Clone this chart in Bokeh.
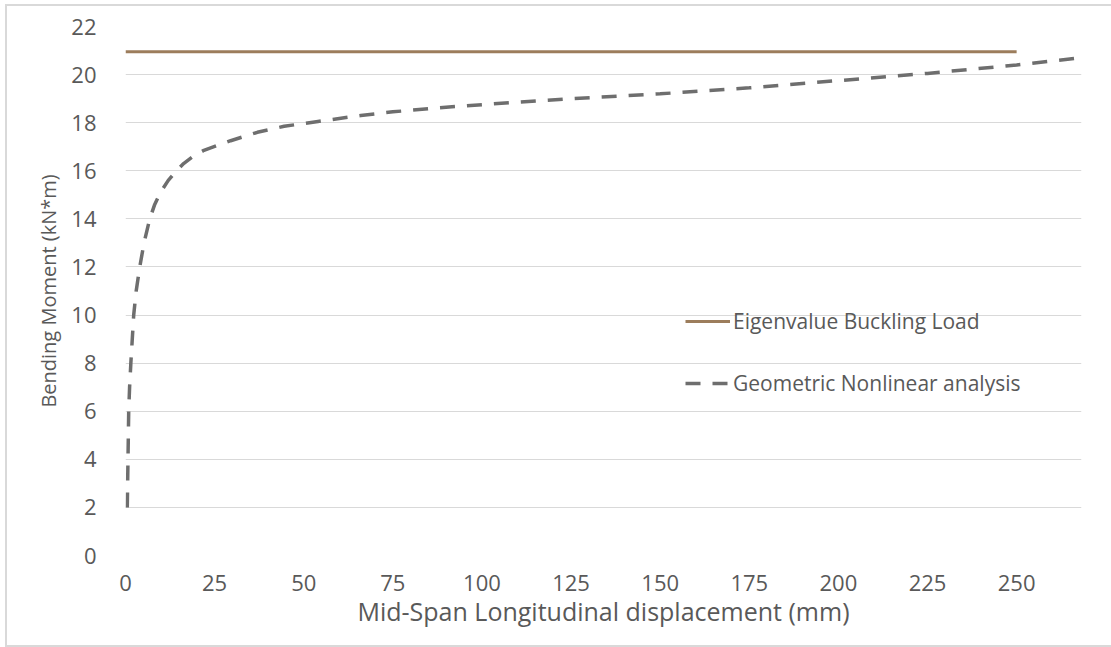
from bokeh.plotting import figure
from bokeh.models import Range1d, FixedTicker, Legend, LegendItem
from bokeh.embed import file_html
from bokeh.resources import INLINE

# Data
eig_x = [0, 250]
eig_y = [20.95, 20.95]

disp = [0.5, 0.7, 0.9, 1.15, 1.5, 2.3, 3.0, 4.0, 5.2, 6.8, 8.2, 9.8, 12, 14, 16.3, 19, 22,
        29.5, 37, 44.5, 54, 66, 75, 88, 100, 125, 150, 175, 200, 225, 250, 268]
moment = [2, 4, 6, 7, 8, 10, 11, 12, 13, 14, 14.6, 15.1, 15.6, 15.95, 16.3, 16.6, 16.85,
          17.25, 17.6, 17.85, 18.05, 18.3, 18.45, 18.62, 18.75, 19.0, 19.2, 19.45,
          19.75, 20.05, 20.4, 20.7]

x_ticks = [0, 25, 50, 75, 100, 125, 150, 175, 200, 225, 250]
y_ticks = [0, 2, 4, 6, 8, 10, 12, 14, 16, 18, 20, 22]

FONT = "Open Sans"
TXT = "#595959"

p = figure(width=1104, height=639, output_backend="svg", toolbar_location=None,
           x_range=Range1d(0, 268.2), y_range=Range1d(0, 22),
           min_border_left=118, min_border_right=30, min_border_top=20, min_border_bottom=90)
p.frame_width = 956
p.frame_height = 529
p.outline_line_color = None
p.background_fill_color = "white"
p.border_fill_color = "white"
p.styles = {"border-left": "2px solid #d9d9d9", "border-top": "2px solid #d9d9d9",
            "border-bottom": "2px solid #d9d9d9", "border-right": "none",
            "margin-left": "5px", "margin-top": "4px"}

for ax in (p.xaxis[0], p.yaxis[0]):
    ax.axis_line_color = None
    ax.major_tick_line_color = None
    ax.minor_tick_line_color = None
    ax.major_label_text_font = FONT
    ax.major_label_text_color = TXT
    ax.major_label_text_font_size = "22px"
    ax.axis_label_text_font = FONT
    ax.axis_label_text_color = TXT
    ax.axis_label_text_font_style = "normal"

p.xaxis.axis_label_text_font_size = "25px"
p.yaxis.axis_label_text_font_size = "20px"
p.xaxis.ticker = FixedTicker(ticks=x_ticks)
p.yaxis.ticker = FixedTicker(ticks=y_ticks)
p.xaxis.axis_label = "Mid-Span Longitudinal displacement (mm)"
p.yaxis.axis_label = "Bending Moment (kN*m)"
p.xaxis.major_label_standoff = 13
p.yaxis.major_label_standoff = 23
p.xaxis.axis_label_standoff = 0
p.yaxis.axis_label_standoff = 6

p.xgrid.grid_line_color = None
p.ygrid.grid_line_color = "#d9d9d9"
p.ygrid.grid_line_width = 1

r1 = p.line(eig_x, eig_y, line_color="#9c7d5c", line_width=3)
r2 = p.line(disp, moment, line_color="#6e6e6e", line_width=3.5, line_dash="15 12")

leg = Legend(items=[LegendItem(label="Eigenvalue Buckling Load", renderers=[r1]),
                    LegendItem(label="Geometric Nonlinear analysis", renderers=[r2])],
             location=(560, 158), glyph_width=45, label_standoff=3, spacing=34)
leg.border_line_color = None
leg.background_fill_alpha = 0
leg.padding = 0
leg.margin = 0
leg.label_text_font = FONT
leg.label_text_color = TXT
leg.label_text_font_size = "21px"
leg.label_height = 24
leg.glyph_height = 24
p.add_layout(leg, "center")

open("out.html", "w").write(file_html(p, INLINE))
